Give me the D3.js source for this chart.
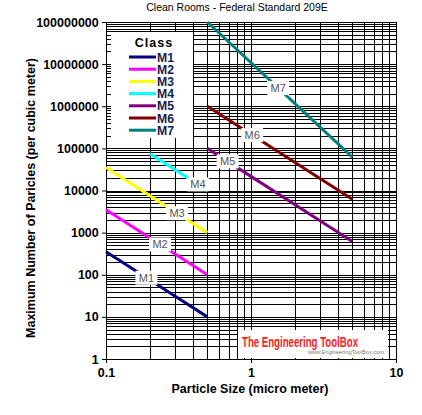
<!DOCTYPE html>
<html lang="en">
<head>
  <meta charset="UTF-8">
  <title>Clean Rooms - Federal Standard 209E</title>
  <script src="https://cdn.jsdelivr.net/npm/d3@7"></script>
  <style>
    body { margin: 0; background: #fff; }
    svg { display: block; }
  </style>
</head>
<body>
<div id="chart"></div>
<script>

// classes and their limits (particles per cubic meter) by particle size (micro meter)
var classes = ["M1", "M2", "M3", "M4", "M5", "M6", "M7"];
var colors = ["#000080", "#ff00ff", "#ffff00", "#00ffff", "#800080", "#800000", "#008080"];
var sizes = [
  [0.1, 0.2, 0.3, 0.5],
  [0.1, 0.2, 0.3, 0.5],
  [0.1, 0.2, 0.3, 0.5],
  [0.2, 0.3, 0.5],
  [0.5, 5],
  [0.5, 5],
  [0.5, 5]
];
var limits = [
  [350, 75.7, 30.9, 10],
  [3500, 757, 309, 100],
  [35000, 7570, 3090, 1000],
  [75700, 30900, 10000],
  [100000, 618],
  [1000000, 6180],
  [100000000, 61800]
];
// particle size where each line label sits
var labelSizes = [0.19, 0.236, 0.309, 0.43, 0.69, 1.02, 1.54];

var xTicks = [0.1, 1, 10];
var yTicks = [1, 10, 100, 1000, 10000, 100000, 1000000, 10000000, 100000000];

var W = 422, H = 415;
var margin = {top: 22, right: 26, bottom: 56, left: 106};
var width = W - margin.left - margin.right;
var height = H - margin.top - margin.bottom;

var svg = d3.select("#chart")
    .append("svg")
    .attr("width", W)
    .attr("height", H);

var g = svg.append("g")
    .attr("transform", "translate(" + margin.left + "," + margin.top + ")");

var xScale = d3.scaleLog().domain([0.1, 10]).range([0, width]);
var yScale = d3.scaleLog().domain([1, 100000000]).range([height, 0]);

// minor + major grid
var xGrid = [], yGrid = [];
xTicks.slice(0, -1).forEach(function(d) {
  for (var k = 1; k < 10; k++) xGrid.push(d * k);
});
xGrid.push(10);
yTicks.slice(0, -1).forEach(function(d) {
  for (var k = 1; k < 10; k++) yGrid.push(d * k);
});
yGrid.push(100000000);

g.selectAll("line.vgrid")
    .data(xGrid)
    .enter().append("line")
    .attr("class", "vgrid")
    .attr("x1", function(d) { return Math.round(xScale(d)) + 0.5; })
    .attr("x2", function(d) { return Math.round(xScale(d)) + 0.5; })
    .attr("y1", 0)
    .attr("y2", height)
    .attr("stroke", "#000")
    .attr("stroke-width", 1)
    .attr("shape-rendering", "crispEdges");

g.selectAll("line.hgrid")
    .data(yGrid)
    .enter().append("line")
    .attr("class", "hgrid")
    .attr("x1", 0)
    .attr("x2", width)
    .attr("y1", function(d) { return Math.round(yScale(d)) + 0.5; })
    .attr("y2", function(d) { return Math.round(yScale(d)) + 0.5; })
    .attr("stroke", "#000")
    .attr("stroke-width", 1)
    .attr("shape-rendering", "crispEdges");

// axes (ticks and labels only)
var xAxis = g.append("g")
    .attr("transform", "translate(0," + height + ")")
    .call(d3.axisBottom(xScale).tickValues(xTicks).tickSize(4).tickPadding(3)
      .tickFormat(function(d) { return String(d); }));
var yAxis = g.append("g")
    .call(d3.axisLeft(yScale).tickValues(yTicks).tickSize(4).tickPadding(2)
      .tickFormat(function(d) { return String(d); }));

[xAxis, yAxis].forEach(function(a) {
  a.select(".domain").remove();
  a.selectAll("line").attr("stroke", "#000");
  a.selectAll("text")
    .attr("fill", "#000")
    .style("font-family", "Liberation Sans, Arial, sans-serif")
    .style("font-weight", "bold")
    .style("font-size", "12.5px");
});
yAxis.selectAll("text").attr("dx", "-0.1em");
xAxis.selectAll("text").attr("dy", "0.85em");

// frame
g.append("rect")
    .attr("x", 0.5).attr("y", 0.5)
    .attr("width", width).attr("height", height)
    .attr("fill", "none")
    .attr("stroke", "#000")
    .attr("shape-rendering", "crispEdges");

// watermark box
var wm = g.append("g");
wm.append("rect")
    .attr("x", 132).attr("y", 308)
    .attr("width", 150).attr("height", 28)
    .attr("fill", "#fff");
wm.append("text")
    .attr("x", 136).attr("y", 325)
    .attr("textLength", 116)
    .attr("lengthAdjust", "spacingAndGlyphs")
    .style("font-family", "Liberation Sans Narrow, Arial Narrow, sans-serif")
    .style("font-weight", "bold")
    .style("font-size", "15px")
    .attr("fill", "#ff1a1a")
    .text("The Engineering ToolBox");
wm.append("text")
    .attr("x", 202).attr("y", 332)
    .attr("textLength", 76)
    .attr("lengthAdjust", "spacingAndGlyphs")
    .style("font-family", "Liberation Sans, Arial, sans-serif")
    .style("font-size", "6px")
    .attr("fill", "#777")
    .text("www.EngineeringToolBox.com");

// series lines
var line = d3.line()
    .x(function(d) { return xScale(d[0]); })
    .y(function(d) { return yScale(d[1]); });

var series = classes.map(function(c, i) {
  return {name: c, color: colors[i], pts: d3.zip(sizes[i], limits[i])};
});

g.selectAll("path.series")
    .data(series)
    .enter().append("path")
    .attr("class", "series")
    .attr("d", function(d) { return line(d.pts); })
    .attr("fill", "none")
    .attr("stroke", function(d) { return d.color; })
    .attr("stroke-width", 3);

// value on a log-log segment at size s
function valueAt(pts, s) {
  for (var k = 0; k < pts.length - 1; k++) {
    if (s >= pts[k][0] && s <= pts[k + 1][0]) {
      var t = (Math.log(s) - Math.log(pts[k][0])) / (Math.log(pts[k + 1][0]) - Math.log(pts[k][0]));
      return Math.exp(Math.log(pts[k][1]) + t * (Math.log(pts[k + 1][1]) - Math.log(pts[k][1])));
    }
  }
  return pts[pts.length - 1][1];
}

var labels = g.selectAll("g.lbl")
    .data(series)
    .enter().append("g")
    .attr("class", "lbl")
    .attr("transform", function(d, i) {
      var s = labelSizes[i];
      return "translate(" + xScale(s) + "," + yScale(valueAt(d.pts, s)) + ")";
    });
labels.append("rect")
    .attr("x", -11).attr("y", -7)
    .attr("width", 22).attr("height", 14)
    .attr("fill", "#fff");
labels.append("text")
    .attr("text-anchor", "middle")
    .attr("dy", "0.36em")
    .style("font-family", "Liberation Sans, Arial, sans-serif")
    .style("font-size", "11px")
    .attr("fill", "#555")
    .text(function(d) { return d.name; });

// legend
var legend = svg.append("g")
    .attr("transform", "translate(111,32)");
legend.append("rect")
    .attr("width", 82).attr("height", 106)
    .attr("fill", "#fff");
legend.append("text")
    .attr("x", 43).attr("y", 15)
    .attr("text-anchor", "middle")
    .style("font-family", "Liberation Sans, Arial, sans-serif")
    .style("font-weight", "bold")
    .style("font-size", "12.5px")
    .style("letter-spacing", "1px")
    .attr("fill", "#000")
    .text("Class");
legend.selectAll("line.key")
    .data(series)
    .enter().append("line")
    .attr("class", "key")
    .attr("x1", 18).attr("x2", 45)
    .attr("y1", function(d, i) { return 25 + i * 12.2; })
    .attr("y2", function(d, i) { return 25 + i * 12.2; })
    .attr("stroke", function(d) { return d.color; })
    .attr("stroke-width", 3);
legend.selectAll("text.key")
    .data(series)
    .enter().append("text")
    .attr("class", "key")
    .attr("x", 46)
    .attr("y", function(d, i) { return 25 + i * 12.2; })
    .attr("dy", "0.36em")
    .attr("textLength", 17)
    .attr("lengthAdjust", "spacingAndGlyphs")
    .style("font-family", "Liberation Sans Narrow, Arial Narrow, sans-serif")
    .style("font-weight", "bold")
    .style("font-size", "13px")
    .attr("fill", "#1a1a50")
    .text(function(d) { return d.name; });

// titles
svg.append("text")
    .attr("x", 237).attr("y", 11)
    .attr("text-anchor", "middle")
    .style("font-family", "Liberation Sans, Arial, sans-serif")
    .style("font-size", "10.5px")
    .attr("fill", "#000")
    .text("Clean Rooms - Federal Standard 209E");

svg.append("text")
    .attr("x", 250).attr("y", 393)
    .attr("text-anchor", "middle")
    .style("font-family", "Liberation Sans, Arial, sans-serif")
    .style("font-weight", "bold")
    .style("font-size", "12.5px")
    .attr("fill", "#000")
    .text("Particle Size (micro meter)");

svg.append("text")
    .attr("transform", "translate(35,198) rotate(-90)")
    .attr("text-anchor", "middle")
    .style("font-family", "Liberation Sans, Arial, sans-serif")
    .style("font-weight", "bold")
    .style("font-size", "12.5px")
    .attr("fill", "#000")
    .text("Maximum Number of Paricles (per cubic meter)");

</script>
</body>
</html>
